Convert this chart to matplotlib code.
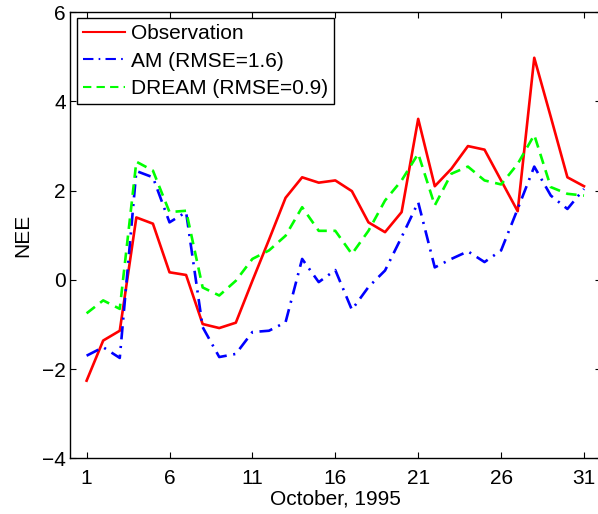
import matplotlib
matplotlib.use("Agg")
import matplotlib.pyplot as plt

# Daily net ecosystem exchange, October 1995
days = list(range(1, 32))
observation = [-2.26, -1.36, -1.14, 1.40, 1.26, 0.17, 0.11, -0.99, -1.08, -0.96,
               -0.02, 0.90, 1.84, 2.30, 2.18, 2.23, 1.99, 1.29, 1.07, 1.52,
               3.61, 2.10, 2.49, 3.00, 2.92, 2.23, 1.54, 4.98, 3.65, 2.30, 2.10]
am = [-1.70, -1.51, -1.75, 2.44, 2.30, 1.29, 1.52, -1.06, -1.73, -1.66,
      -1.17, -1.14, -0.95, 0.47, -0.05, 0.22, -0.67, -0.16, 0.21, 0.96,
      1.74, 0.28, 0.47, 0.64, 0.40, 0.66, 1.59, 2.54, 1.89, 1.59, 2.04]
dream = [-0.75, -0.46, -0.65, 2.65, 2.45, 1.52, 1.55, -0.17, -0.35, -0.02,
         0.47, 0.66, 0.99, 1.63, 1.10, 1.10, 0.58, 1.10, 1.78, 2.23,
         2.83, 1.67, 2.38, 2.54, 2.23, 2.14, 2.60, 3.25, 2.08, 1.93, 1.89]

labels = ["Observation", "AM (RMSE=1.6)", "DREAM (RMSE=0.9)"]
xticks = [1, 6, 11, 16, 21, 26, 31]
yticks = [-4, -2, 0, 2, 4, 6]

plt.rcParams['font.family'] = ['Liberation Sans', 'DejaVu Sans']

FS = 15

fig = plt.figure(figsize=(5.98, 5.14), dpi=100)
ax = fig.add_axes([0.1171, 0.1084, 0.8872, 0.8677])

ax.plot(days, observation, color=(1, 0, 0), lw=1.9, ls='-', label=labels[0])
ax.plot(days, am, color=(0, 0, 1), lw=1.9, ls=(0, (5, 2.5, 0.8, 2.5)), label=labels[1])
ax.plot(days, dream, color=(0, 1, 0), lw=1.9, ls=(0, (4, 2.5)), label=labels[2])

ax.set_xlim(0, 32)
ax.set_ylim(-4, 6)
ax.set_xticks(xticks)
ax.set_yticks(yticks)
ax.set_yticklabels([str(v).replace('-', '\u2212') for v in yticks])
ax.tick_params(direction='in', length=4.5, width=0.8, top=True, right=True,
               labelsize=FS)
ax.tick_params(axis='x', pad=8)
ax.tick_params(axis='y', pad=3)
for s in ax.spines.values():
    s.set_linewidth(1.0)
ax.spines['right'].set_visible(False)

ax.set_xlabel("October, 1995", fontsize=FS, labelpad=1.0)
ax.set_ylabel("NEE", fontsize=FS, labelpad=7)

leg = ax.legend(loc='upper left', bbox_to_anchor=(0.0132, 0.987), borderaxespad=0,
                fontsize=FS, frameon=True, fancybox=False, framealpha=1,
                edgecolor='black', handlelength=2.0, handletextpad=0.3,
                labelspacing=0.42, borderpad=0.28)
leg.get_frame().set_linewidth(1.0)
for h in leg.get_lines():
    h.set_linewidth(1.5)

fig.savefig("out.png", dpi=100)
